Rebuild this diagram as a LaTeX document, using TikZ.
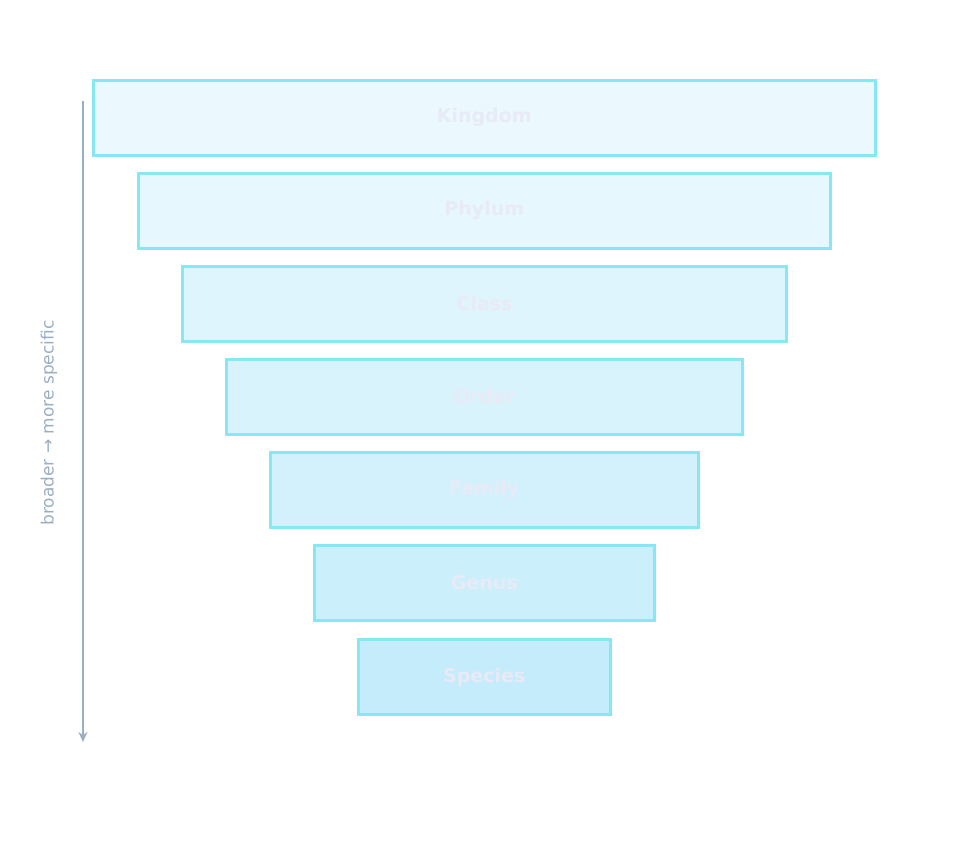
\documentclass[tikz,border=0pt]{standalone}
\usepackage{fontspec}
\setmainfont{DejaVu Sans}
\usetikzlibrary{arrows.meta}
\definecolor{bd}{HTML}{86E8F2}
\definecolor{tx}{HTML}{E8EAF6}
\definecolor{ar}{HTML}{9AAFC4}
\begin{document}
\begin{tikzpicture}[x=1pt,y=-1pt,
  lvl/.style={draw=bd,line width=2.5pt,font=\bfseries\fontsize{19}{22}\selectfont,text=tx,inner sep=0pt}]
\useasboundingbox (0,0) rectangle (966,846);
\def\lv#1#2#3#4#5#6{\fill[#6] (#2,#3) rectangle (#4,#3+75);
  \node[lvl,fill=#6,minimum width=#4-#2,minimum height=75,anchor=north west] (#1) at (#2,#3) {#5};}
\lv{k}{92}{79}{874}{Kingdom}{cyan!8}
\lv{p}{137}{172}{829}{Phylum}{cyan!10}
\lv{c}{181}{265}{785}{Class}{cyan!12.5}
\lv{o}{225}{358}{741}{Order}{cyan!15}
\lv{f}{269}{451}{697}{Family}{cyan!17.5}
\lv{g}{313}{544}{653}{Genus}{cyan!20}
\lv{s}{357}{638}{609}{Species}{cyan!23}
\coordinate (a1) at (83,101);
\coordinate (a2) at (83,742);
\draw[ar,line width=2.5pt,-{Stealth[length=10pt,width=9pt]}] (a1) -- (a2);
\node[rotate=90,text=ar,font=\fontsize{17}{20}\selectfont] (lab) at (49,423) {broader → more specific};
\end{tikzpicture}
\end{document}
